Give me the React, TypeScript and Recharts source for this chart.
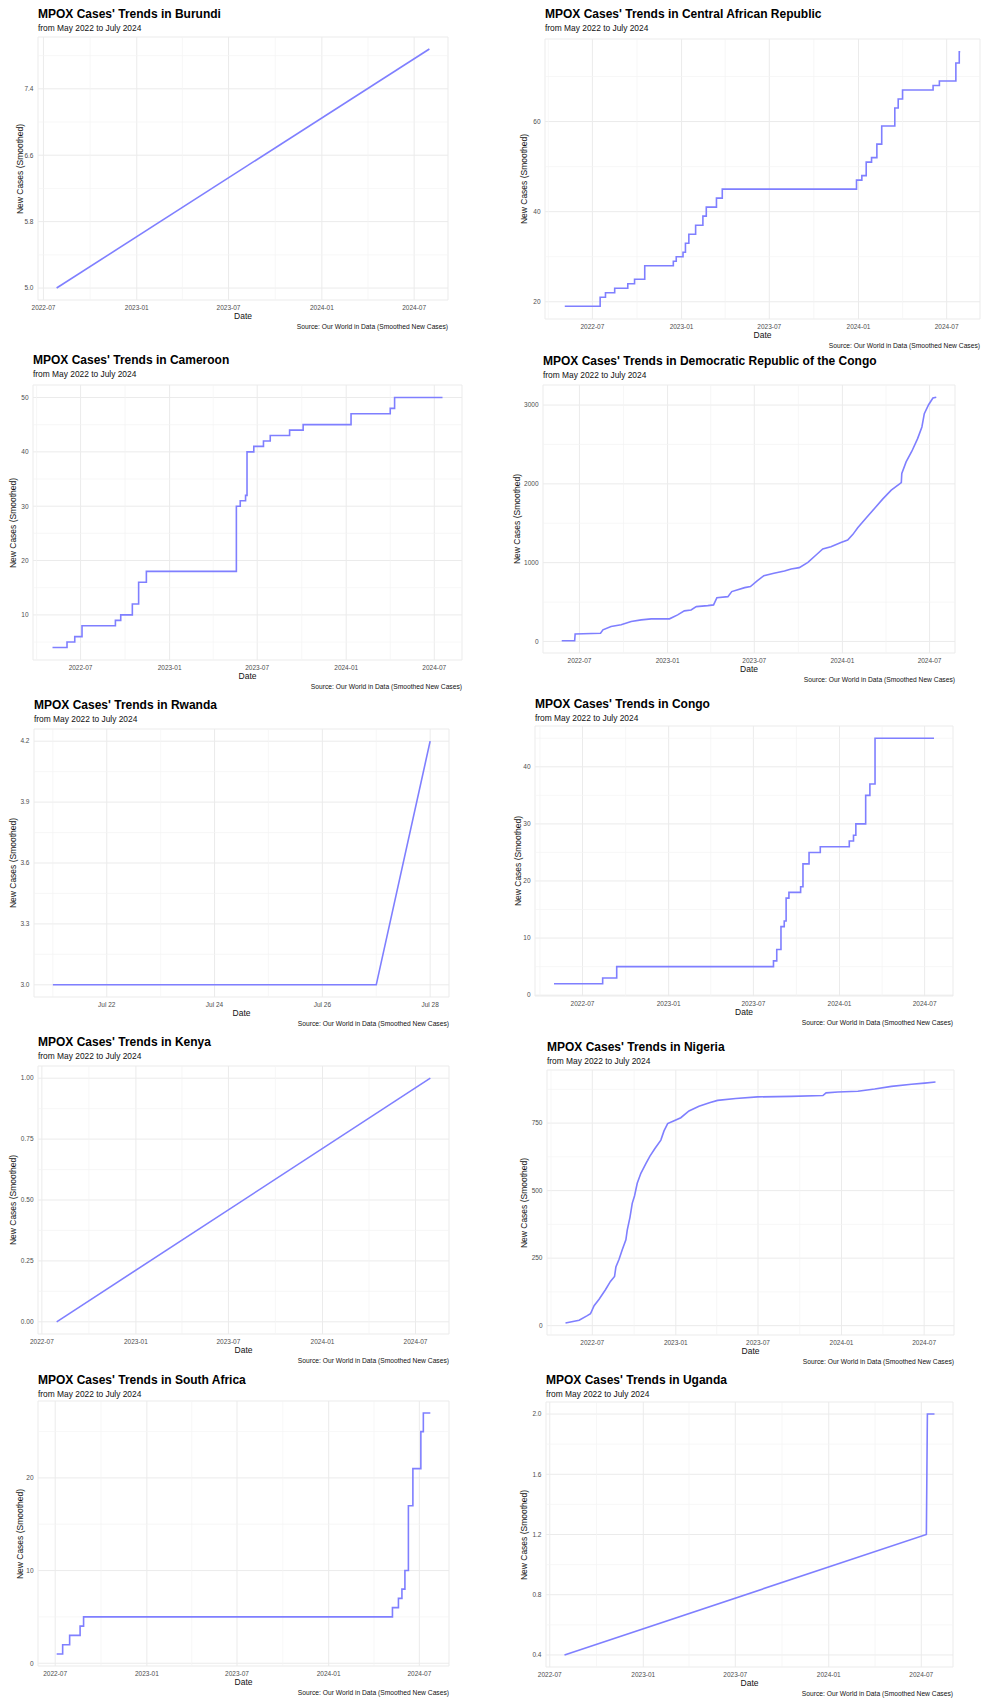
import React from 'react';
import { LineChart, Line, XAxis, YAxis, CartesianGrid, ReferenceLine } from 'recharts';

const FONT = '"Liberation Sans", Arial, Helvetica, sans-serif';
const LINE_COLOR = '#7f7fff';

const SUBTITLE = 'from May 2022 to July 2024';
const CAPTION = 'Source: Our World in Data (Smoothed New Cases)';
const Y_TITLE = 'New Cases (Smoothed)';
const X_TITLE = 'Date';

// x-axis tick dates
const monthTicks = ['2022-07-01', '2023-01-01', '2023-07-01', '2024-01-01', '2024-07-01'];
const monthMinor = ['2022-04-01', '2022-10-01', '2023-04-01', '2023-10-01', '2024-04-01', '2024-10-01'];
const rwandaTicks = ['2024-07-22', '2024-07-24', '2024-07-26', '2024-07-28'];
const rwandaMinor = ['2024-07-21', '2024-07-23', '2024-07-25', '2024-07-27'];

// Burundi
const burundiDates = ['2022-07-27', '2024-07-31'];
const burundiCases = [5.0, 7.88];
const burundiYTicks = [5.0, 5.8, 6.6, 7.4];
const burundiYMinor = [5.4, 6.2, 7.0, 7.8];

// Central African Republic
const carDates = ['2022-05-05', '2022-07-17', '2022-07-28', '2022-08-16', '2022-09-12', '2022-09-26', '2022-10-17', '2022-12-15', '2022-12-21', '2023-01-04', '2023-01-09', '2023-01-16', '2023-01-30', '2023-02-14', '2023-02-21', '2023-03-14', '2023-03-26', '2023-12-28', '2024-01-08', '2024-01-17', '2024-01-28', '2024-02-08', '2024-02-18', '2024-03-16', '2024-03-23', '2024-04-01', '2024-06-03', '2024-06-16', '2024-07-20', '2024-07-27', '2024-07-29'];
const carCases = [19, 21, 22, 23, 24, 25, 28, 29, 30, 31, 33, 35, 37, 39, 41, 43, 45, 47, 48, 51, 52, 55, 59, 63, 65, 67, 68, 69, 73, 75.5, 75.5];
const carYTicks = [20, 40, 60];
const carYMinor = [30, 50, 70];

// Cameroon
const camDates = ['2022-05-04', '2022-06-03', '2022-06-19', '2022-07-04', '2022-09-11', '2022-09-22', '2022-10-16', '2022-10-29', '2022-11-14', '2023-05-19', '2023-05-27', '2023-06-07', '2023-06-10', '2023-06-24', '2023-07-14', '2023-07-28', '2023-09-06', '2023-10-04', '2024-01-11', '2024-04-01', '2024-04-10', '2024-07-18'];
const camCases = [4, 5, 6, 8, 9, 10, 12, 16, 18, 30, 31, 32, 40, 41, 42, 43, 44, 45, 47, 48, 50, 50];
const camYTicks = [10, 20, 30, 40, 50];
const camYMinor = [5, 15, 25, 35, 45];

// Democratic Republic of the Congo
const drcDates = ['2022-05-25', '2022-06-21', '2022-06-22', '2022-08-14', '2022-08-19', '2022-09-05', '2022-09-26', '2022-10-17', '2022-11-07', '2022-11-28', '2023-01-05', '2023-01-22', '2023-02-05', '2023-02-19', '2023-03-02', '2023-03-26', '2023-04-07', '2023-04-14', '2023-05-07', '2023-05-15', '2023-06-11', '2023-06-23', '2023-07-07', '2023-07-21', '2023-08-11', '2023-09-02', '2023-09-16', '2023-10-03', '2023-10-21', '2023-11-07', '2023-11-21', '2023-12-08', '2023-12-29', '2024-01-12', '2024-01-23', '2024-02-02', '2024-02-20', '2024-03-08', '2024-03-25', '2024-04-12', '2024-05-03', '2024-05-04', '2024-05-13', '2024-05-25', '2024-06-06', '2024-06-15', '2024-06-20', '2024-06-29', '2024-07-08', '2024-07-15'];
const drcCases = [8, 8, 95, 105, 148, 190, 211, 253, 274, 287, 287, 337, 388, 400, 442, 455, 464, 556, 569, 633, 683, 696, 768, 835, 865, 894, 920, 937, 1004, 1097, 1173, 1203, 1257, 1287, 1359, 1443, 1570, 1688, 1806, 1920, 2017, 2131, 2278, 2414, 2574, 2722, 2890, 3004, 3089, 3100];
const drcYTicks = [0, 1000, 2000, 3000];
const drcYMinor = [500, 1500, 2500];

// Rwanda
const rwaDates = ['2024-07-21', '2024-07-22', '2024-07-23', '2024-07-24', '2024-07-25', '2024-07-26', '2024-07-27', '2024-07-28'];
const rwaCases = [3.0, 3.0, 3.0, 3.0, 3.0, 3.0, 3.0, 4.2];
const rwaYTicks = [3.0, 3.3, 3.6, 3.9, 4.2];
const rwaYMinor = [3.15, 3.45, 3.75, 4.05];

// Congo
const congoDates = ['2022-05-01', '2022-08-13', '2022-09-12', '2023-08-13', '2023-08-20', '2023-08-29', '2023-09-05', '2023-09-09', '2023-09-15', '2023-10-10', '2023-10-15', '2023-10-28', '2023-11-21', '2024-01-22', '2024-01-31', '2024-02-05', '2024-02-26', '2024-03-06', '2024-03-17', '2024-07-21'];
const congoCases = [2, 3, 5, 6, 8, 12, 13, 17, 18, 19, 23, 25, 26, 27, 28, 30, 35, 37, 45, 45];
const congoYTicks = [0, 10, 20, 30, 40];
const congoYMinor = [5, 15, 25, 35, 45];

// Kenya
const kenDates = ['2022-07-30', '2024-07-30'];
const kenCases = [0, 1];
const kenYTicks = [0, 0.25, 0.5, 0.75, 1];
const kenYMinor = [0.125, 0.375, 0.625, 0.875];

// Nigeria
const ngaDates = ['2022-05-03', '2022-06-02', '2022-06-20', '2022-06-27', '2022-07-05', '2022-07-16', '2022-07-30', '2022-08-10', '2022-08-19', '2022-08-22', '2022-08-29', '2022-09-05', '2022-09-13', '2022-09-16', '2022-09-22', '2022-09-27', '2022-10-02', '2022-10-08', '2022-10-16', '2022-10-27', '2022-11-05', '2022-11-16', '2022-11-29', '2022-12-06', '2022-12-14', '2022-12-27', '2023-01-12', '2023-01-30', '2023-02-21', '2023-03-16', '2023-04-03', '2023-05-13', '2023-06-30', '2023-09-12', '2023-11-21', '2023-11-28', '2023-12-24', '2024-02-06', '2024-03-14', '2024-04-20', '2024-06-03', '2024-07-02', '2024-07-26'];
const ngaCases = [10, 20, 37, 44, 74, 98, 133, 164, 182, 217, 246, 281, 318, 354, 401, 453, 480, 527, 564, 600, 628, 656, 687, 721, 748, 758, 770, 795, 812, 825, 834, 841, 847, 849, 852, 862, 865, 868, 876, 886, 894, 898, 902];
const ngaYTicks = [0, 250, 500, 750];
const ngaYMinor = [125, 375, 625, 875];

// South Africa
const zafDates = ['2022-07-04', '2022-07-16', '2022-07-30', '2022-08-20', '2022-08-27', '2024-05-08', '2024-05-20', '2024-05-27', '2024-06-02', '2024-06-09', '2024-06-18', '2024-07-04', '2024-07-09', '2024-07-23'];
const zafCases = [1, 2, 3, 4, 5, 6, 7, 8, 10, 17, 21, 25, 27, 27];
const zafYTicks = [0, 10, 20];
const zafYMinor = [5, 15, 25];

// Uganda
const ugaDates = ['2022-07-30', '2024-07-11', '2024-07-13', '2024-07-27'];
const ugaCases = [0.4, 1.2, 2.0, 2.0];
const ugaYTicks = [0.4, 0.8, 1.2, 1.6, 2.0];
const ugaYMinor = [0.6, 1.0, 1.4, 1.8];

const MONTHS = ['Jan', 'Feb', 'Mar', 'Apr', 'May', 'Jun', 'Jul', 'Aug', 'Sep', 'Oct', 'Nov', 'Dec'];
const ts = (d: string) => Date.parse(d + 'T00:00:00Z');
const fmtYM = (t: number) => {
  const d = new Date(t);
  return `${d.getUTCFullYear()}-${String(d.getUTCMonth() + 1).padStart(2, '0')}`;
};
const fmtMD = (t: number) => {
  const d = new Date(t);
  return `${MONTHS[d.getUTCMonth()]} ${String(d.getUTCDate()).padStart(2, '0')}`;
};

type Cfg = {
  title: string;
  dates: string[];
  values: number[];
  curve: 'linear' | 'stepAfter';
  xTicks: string[];
  xMinor: string[];
  xFmt: (t: number) => string;
  yTicks: number[];
  yMinor: number[];
  yDigits: number;
  box: { L: number; R: number; T: number; B: number };
  titleY: number;
  yTitleX: number;
};

const panels: Cfg[] = [
  { title: "MPOX Cases' Trends in Burundi", dates: burundiDates, values: burundiCases, curve: 'linear', xTicks: monthTicks, xMinor: monthMinor, xFmt: fmtYM, yTicks: burundiYTicks, yMinor: burundiYMinor, yDigits: 1, box: { L: 38, R: 448, T: 37, B: 300 }, titleY: 14, yTitleX: 20 },
  { title: "MPOX Cases' Trends in Central African Republic", dates: carDates, values: carCases, curve: 'stepAfter', xTicks: monthTicks, xMinor: monthMinor, xFmt: fmtYM, yTicks: carYTicks, yMinor: carYMinor, yDigits: 0, box: { L: 545, R: 980, T: 39, B: 319 }, titleY: 14, yTitleX: 524 },
  { title: "MPOX Cases' Trends in Cameroon", dates: camDates, values: camCases, curve: 'stepAfter', xTicks: monthTicks, xMinor: monthMinor, xFmt: fmtYM, yTicks: camYTicks, yMinor: camYMinor, yDigits: 0, box: { L: 33, R: 462, T: 385, B: 660 }, titleY: 360, yTitleX: 13 },
  { title: "MPOX Cases' Trends in Democratic Republic of the Congo", dates: drcDates, values: drcCases, curve: 'linear', xTicks: monthTicks, xMinor: monthMinor, xFmt: fmtYM, yTicks: drcYTicks, yMinor: drcYMinor, yDigits: 0, box: { L: 543, R: 955, T: 385, B: 653 }, titleY: 361, yTitleX: 517 },
  { title: "MPOX Cases' Trends in Rwanda", dates: rwaDates, values: rwaCases, curve: 'linear', xTicks: rwandaTicks, xMinor: rwandaMinor, xFmt: fmtMD, yTicks: rwaYTicks, yMinor: rwaYMinor, yDigits: 1, box: { L: 34, R: 449, T: 729, B: 997 }, titleY: 705, yTitleX: 13 },
  { title: "MPOX Cases' Trends in Congo", dates: congoDates, values: congoCases, curve: 'stepAfter', xTicks: monthTicks, xMinor: monthMinor, xFmt: fmtYM, yTicks: congoYTicks, yMinor: congoYMinor, yDigits: 0, box: { L: 535, R: 953, T: 726, B: 996 }, titleY: 704, yTitleX: 518 },
  { title: "MPOX Cases' Trends in Kenya", dates: kenDates, values: kenCases, curve: 'linear', xTicks: monthTicks, xMinor: monthMinor, xFmt: fmtYM, yTicks: kenYTicks, yMinor: kenYMinor, yDigits: 2, box: { L: 38, R: 449, T: 1066, B: 1334 }, titleY: 1042, yTitleX: 13 },
  { title: "MPOX Cases' Trends in Nigeria", dates: ngaDates, values: ngaCases, curve: 'linear', xTicks: monthTicks, xMinor: monthMinor, xFmt: fmtYM, yTicks: ngaYTicks, yMinor: ngaYMinor, yDigits: 0, box: { L: 547, R: 954, T: 1070, B: 1335 }, titleY: 1047, yTitleX: 524 },
  { title: "MPOX Cases' Trends in South Africa", dates: zafDates, values: zafCases, curve: 'stepAfter', xTicks: monthTicks, xMinor: monthMinor, xFmt: fmtYM, yTicks: zafYTicks, yMinor: zafYMinor, yDigits: 0, box: { L: 38, R: 449, T: 1401, B: 1666 }, titleY: 1380, yTitleX: 20 },
  { title: "MPOX Cases' Trends in Uganda", dates: ugaDates, values: ugaCases, curve: 'linear', xTicks: monthTicks, xMinor: monthMinor, xFmt: fmtYM, yTicks: ugaYTicks, yMinor: ugaYMinor, yDigits: 1, box: { L: 546, R: 953, T: 1402, B: 1667 }, titleY: 1380, yTitleX: 524 },
];

const YW = 40;
const TM = 2;
const RM = 2;
const XH = 30;
const TICK_STYLE = { fontSize: 6.5, fill: '#4d4d4d', fontFamily: FONT };

function Panel({ cfg }: { cfg: Cfg }) {
  const { L, R, T, B } = cfg.box;
  const data = cfg.dates.map((d, i) => ({ t: ts(d), v: cfg.values[i] }));
  const tList = data.map((p) => p.t);
  const vList = data.map((p) => p.v);
  const tMin = Math.min(...tList);
  const tMax = Math.max(...tList);
  const vMin = Math.min(...vList);
  const vMax = Math.max(...vList);
  const tPad = (tMax - tMin) * 0.05;
  const vPad = (vMax - vMin) * 0.05;
  const w = R - L + YW + RM;
  const h = B - T + TM + XH;
  const cx = (L + R) / 2;
  const cy = (T + B) / 2;
  return (
    <>
      <div style={{ position: 'absolute', left: L - YW, top: T - TM, width: w, height: h }}>
        <LineChart width={w} height={h} data={data} margin={{ top: TM, right: RM, left: 0, bottom: 0 }}>
          <CartesianGrid stroke="#ebebeb" strokeWidth={1} />
          {cfg.xMinor.map((d) => (
            <ReferenceLine key={'xm' + d} x={ts(d)} stroke="#f3f3f3" strokeWidth={0.7} />
          ))}
          {cfg.yMinor.map((v) => (
            <ReferenceLine key={'ym' + v} y={v} stroke="#f3f3f3" strokeWidth={0.7} />
          ))}
          <XAxis
            type="number"
            dataKey="t"
            domain={[tMin - tPad, tMax + tPad]}
            allowDataOverflow
            ticks={cfg.xTicks.map(ts)}
            tickFormatter={cfg.xFmt}
            interval={0}
            axisLine={false}
            tickLine={false}
            tickSize={0}
            tickMargin={5}
            height={XH}
            tick={TICK_STYLE}
          />
          <YAxis
            type="number"
            domain={[vMin - vPad, vMax + vPad]}
            allowDataOverflow
            ticks={cfg.yTicks}
            tickFormatter={(v: number) => v.toFixed(cfg.yDigits)}
            interval={0}
            axisLine={false}
            tickLine={false}
            tickSize={0}
            tickMargin={4.5}
            width={YW}
            tick={TICK_STYLE}
          />
          <Line type={cfg.curve} dataKey="v" stroke={LINE_COLOR} strokeWidth={1.6} dot={false} isAnimationActive={false} />
        </LineChart>
      </div>
      <div style={{ position: 'absolute', left: L, top: cfg.titleY - 6, fontSize: 12, lineHeight: '12px', fontWeight: 'bold', color: '#000', whiteSpace: 'nowrap' }}>
        {cfg.title}
      </div>
      <div style={{ position: 'absolute', left: L, top: cfg.titleY + 14.5 - 4.2, fontSize: 8.4, lineHeight: '8.4px', color: '#111', whiteSpace: 'nowrap' }}>
        {SUBTITLE}
      </div>
      <div style={{ position: 'absolute', left: cfg.yTitleX, top: cy, fontSize: 8.5, lineHeight: '8.5px', color: '#111', whiteSpace: 'nowrap', transform: 'translate(-50%, -50%) rotate(-90deg)' }}>
        {Y_TITLE}
      </div>
      <div style={{ position: 'absolute', left: cx, top: B + 16 - 4.25, fontSize: 8.5, lineHeight: '8.5px', color: '#111', whiteSpace: 'nowrap', transform: 'translateX(-50%)' }}>
        {X_TITLE}
      </div>
      <div style={{ position: 'absolute', right: 982 - R, top: B + 27 - 3.35, fontSize: 6.7, lineHeight: '6.7px', color: '#111', whiteSpace: 'nowrap' }}>
        {CAPTION}
      </div>
    </>
  );
}

export default function App() {
  return (
    <div style={{ position: 'absolute', left: 0, top: 0, width: 982, height: 1698, background: '#fff', fontFamily: FONT, overflow: 'hidden' }}>
      {panels.map((p) => (
        <Panel key={p.title} cfg={p} />
      ))}
    </div>
  );
}
